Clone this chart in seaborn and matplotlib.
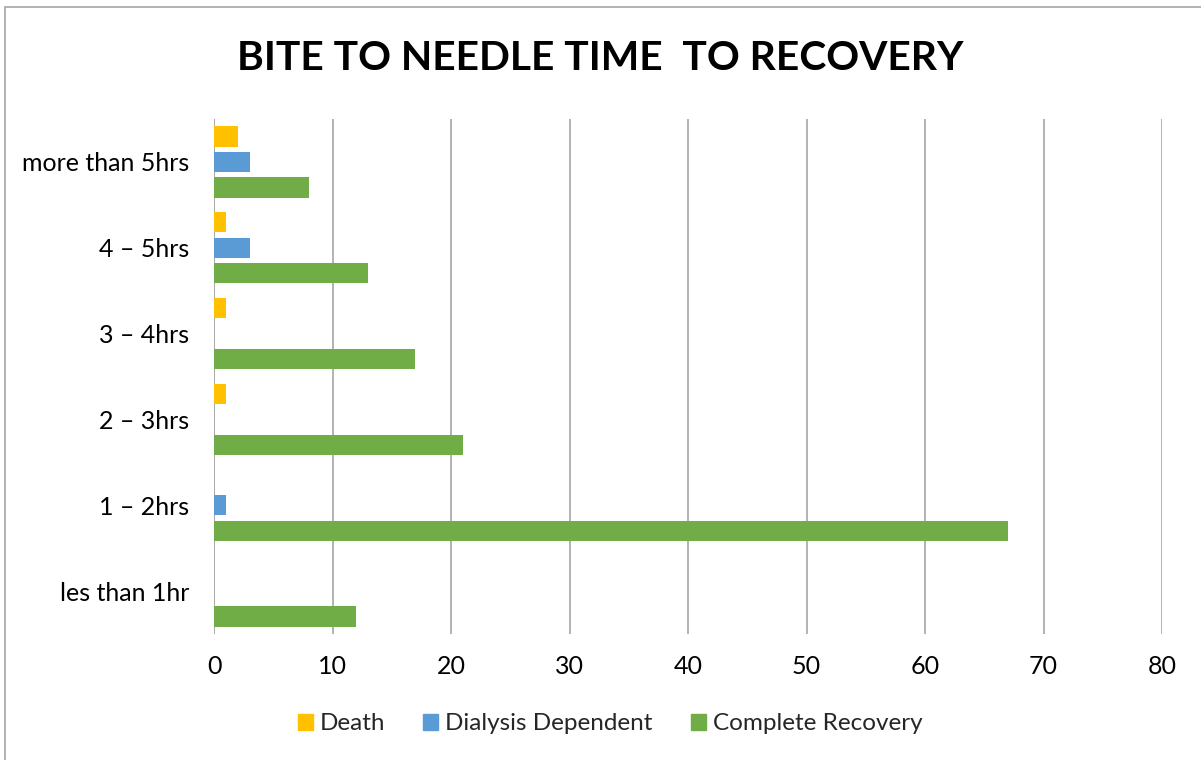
import matplotlib
matplotlib.use("Agg")
import matplotlib.pyplot as plt
import matplotlib.patches as mpatches
import seaborn as sns
import pandas as pd

categories = ["more than 5hrs", "4 – 5hrs", "3 – 4hrs", "2 – 3hrs", "1 – 2hrs", "les than 1hr"]
series = ["Death", "Dialysis Dependent", "Complete Recovery"]
death = [2, 1, 1, 1, 0, 0]
dialysis = [3, 3, 0, 0, 1, 0]
recovery = [8, 13, 17, 21, 67, 12]
colors = ["#FFC000", "#5B9BD5", "#70AD47"]
x_ticks = [0, 10, 20, 30, 40, 50, 60, 70, 80]

rows = []
for vals, name in zip([death, dialysis, recovery], series):
    for c, v in zip(categories, vals):
        rows.append({"cat": c, "series": name, "value": v})
df = pd.DataFrame(rows)

sns.set_theme(style="white")
plt.rcParams['font.family'] = ['Lato', 'DejaVu Sans']

fig = plt.figure(figsize=(12.01, 7.6), dpi=100)
ax = fig.add_axes([214/1201, (760-634)/760, (1162-214)/1201, (634-119)/760])

sns.barplot(data=df, y="cat", x="value", hue="series", order=categories,
            hue_order=series, palette=colors, orient="h", width=0.89, gap=0.2,
            ax=ax, saturation=1, legend=False, edgecolor="none")

ax.set_xlim(0, 80)
ax.set_xticks(x_ticks)
ax.set_ylim(len(categories) - 0.5, -0.5)
ax.set_xlabel("")
ax.set_ylabel("")
ax.grid(axis="x", color="#A6A6A6", linewidth=1.2)
ax.set_axisbelow(True)
for s in ax.spines.values():
    s.set_visible(False)
ax.axvline(0, color="#A6A6A6", linewidth=1.2, zorder=0.5)
ax.tick_params(axis="both", length=0, labelsize=18, colors="black")
ax.tick_params(axis="x", pad=15)
ax.tick_params(axis="y", pad=18)

fig.text(0.5, (760-59)/760, "BITE TO NEEDLE TIME  TO RECOVERY", ha="center", va="center",
         fontsize=29.3, fontweight="bold", color="black")

handles = [mpatches.Patch(color=c, label=s) for c, s in zip(colors, series)]
fig.legend(handles=handles, loc="center", bbox_to_anchor=(610/1201, (760-724)/760), ncol=3,
           frameon=False, fontsize=17.5, handlelength=0.62, handleheight=0.62,
           handletextpad=0.29, columnspacing=1.56)

border = mpatches.Rectangle((5/1201, -0.1), 1.2, (753/760) + 0.1, transform=fig.transFigure,
                            fill=False, edgecolor="#A6A6A6", linewidth=1.2)
fig.patches.append(border)

fig.savefig("out.png", dpi=100)
